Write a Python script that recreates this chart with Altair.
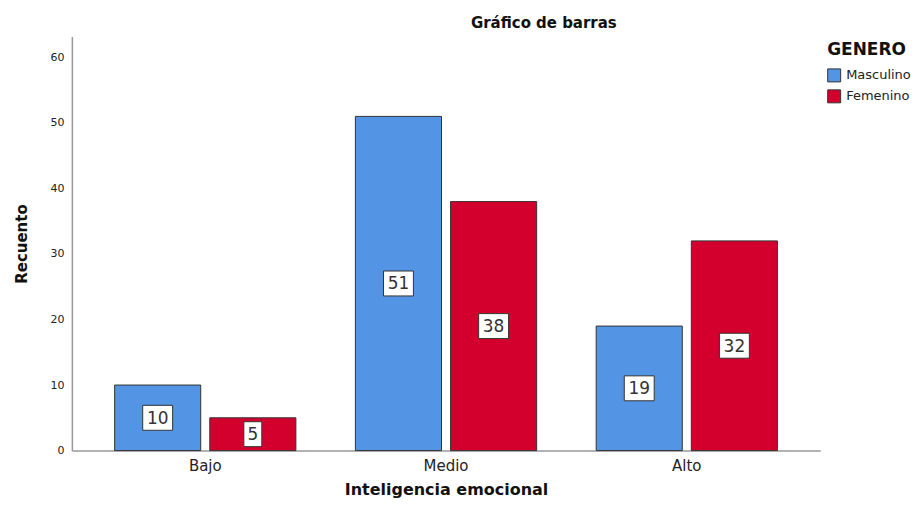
import altair as alt
import pandas as pd

categories = ["Bajo", "Medio", "Alto"]
genders = ["Masculino", "Femenino"]
masculino = [10, 51, 19]
femenino = [5, 38, 32]
y_ticks = [0, 10, 20, 30, 40, 50, 60]
colors = ["#5494E4", "#D3002E"]

rows = []
for c, m, f in zip(categories, masculino, femenino):
    rows.append({"cat": c, "gen": "Masculino", "val": m})
    rows.append({"cat": c, "gen": "Femenino", "val": f})
df = pd.DataFrame(rows)
df["digits"] = df["val"].astype(str).str.len().astype(str)

FONT = "DejaVu Sans"

x_enc = alt.X(
    "cat:N",
    sort=categories,
    scale=alt.Scale(paddingInner=0.21, paddingOuter=0.159),
    axis=alt.Axis(
        title="Inteligencia emocional",
        labelAngle=0,
        labelFontSize=15,
        labelPadding=8,
        titlePadding=8,
        titleFontSize=16,
        titleFontWeight="bold",
        ticks=False,
    ),
)
xoff = alt.XOffset(
    "gen:N",
    sort=genders,
    scale=alt.Scale(domain=genders, paddingInner=0.095, paddingOuter=0.047),
)

bars = alt.Chart(df).mark_bar(stroke="#333333", strokeWidth=1).encode(
    x=x_enc,
    xOffset=xoff,
    y=alt.Y(
        "val:Q",
        scale=alt.Scale(domain=[0, 63.2], nice=False),
        axis=alt.Axis(
            title="Recuento",
            values=y_ticks,
            grid=False,
            ticks=False,
            labelFontSize=11,
            labelPadding=8,
            titlePadding=20,
            titleFontSize=15,
            titleFontWeight="bold",
        ),
    ),
    color=alt.Color(
        "gen:N",
        sort=genders,
        scale=alt.Scale(domain=genders, range=colors),
        legend=alt.Legend(
            title="GENERO",
            orient="none",
            legendX=757,
            legendY=6,
            titleFontSize=17,
            titleFontWeight="bold",
            titleColor="#111111",
            titlePadding=9,
            labelFontSize=13,
            labelColor="#222222",
            symbolType="square",
            symbolSize=169,
            symbolStrokeColor="#333333",
            symbolStrokeWidth=1,
            symbolOpacity=1,
            rowPadding=3,
            labelOffset=5,
        ),
    ),
)

base = alt.Chart(df).transform_calculate(mid="datum.val / 2")

boxes = base.mark_point(
    filled=True, fill="white", stroke="#333333", strokeWidth=1, opacity=1, size=900
).encode(
    x=alt.X("cat:N", sort=categories),
    xOffset=alt.XOffset("gen:N", sort=genders),
    y=alt.Y("mid:Q"),
    shape=alt.Shape(
        "digits:N",
        scale=alt.Scale(
            domain=["1", "2"],
            range=[
                "M-0.6,-0.833L0.6,-0.833L0.6,0.833L-0.6,0.833Z",
                "M-1,-0.833L1,-0.833L1,0.833L-1,0.833Z",
            ],
        ),
        legend=None,
    ),
)

labels = base.mark_text(
    fontSize=17, font=FONT, color="#333333", baseline="middle", align="center", dy=1
).encode(
    x=alt.X("cat:N", sort=categories),
    xOffset=alt.XOffset("gen:N", sort=genders),
    y=alt.Y("mid:Q"),
    text=alt.Text("val:Q"),
)

chart = (
    alt.layer(bars, boxes, labels)
    .properties(
        width=750,
        height=415,
        autosize=alt.AutoSizeParams(type="none"),
        padding={"left": 64, "top": 28, "right": 93, "bottom": 47},
        title=alt.TitleParams(
            "Gráfico de barras",
            fontSize=15,
            fontWeight="bold",
            font=FONT,
            color="#111111",
            anchor="middle",
            frame="group",
            dx=98,
            offset=5,
        ),
    )
    .configure(font=FONT)
    .configure_view(stroke=None)
    .configure_axis(
        domainColor="#999999",
        domainWidth=1.5,
        labelColor="#222222",
        titleColor="#111111",
        labelFont=FONT,
        titleFont=FONT,
    )
    .configure_legend(labelFont=FONT, titleFont=FONT)
)

chart.save("out.html", embed_options={"renderer": "svg", "actions": False})
